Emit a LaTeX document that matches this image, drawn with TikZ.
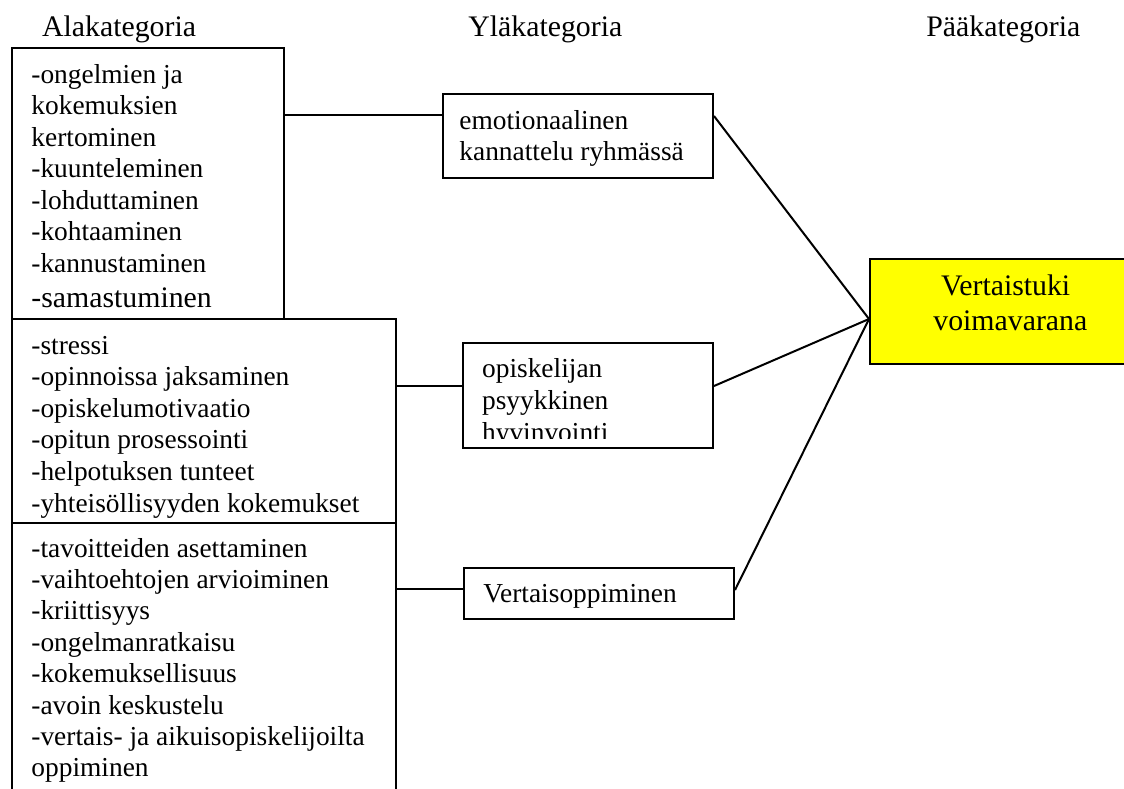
\documentclass[tikz,border=0pt]{standalone}
\usepackage{fontspec}
\setmainfont{Liberation Serif}
\begin{document}
\begin{tikzpicture}[x=0.5pt,y=-0.5pt,
  box/.style={draw, line width=1pt, rectangle, inner sep=0pt, anchor=north west},
  link/.style={line width=1pt},
  body/.style={anchor=base west, inner sep=0pt, font=\fontsize{13.7}{15.75}\selectfont},
  big/.style={anchor=base west, inner sep=0pt, font=\fontsize{14.9}{17.5}\selectfont}]
\useasboundingbox (0,0) rectangle (1124,788);
\clip (0,0) rectangle (1124,788);

% column headings
\node[big] (hAla) at (41.7,36) {Alakategoria};
\node[big] (hYla) at (468,36) {Yläkategoria};
\node[big] (hPaa) at (926,36) {Pääkategoria};

% left column: subcategory boxes
\node[box, minimum width=136pt, minimum height=135.5pt] (sub1) at (11,47) {};
\node[box, minimum width=192pt, minimum height=102pt] (sub2) at (11,318) {};
\node[box, minimum width=192pt, minimum height=139pt] (sub3) at (11,522) {};

\foreach \t [count=\i from 0] in {-ongelmien ja, kokemuksien, kertominen, -kuunteleminen,
    -lohduttaminen, -kohtaaminen, -kannustaminen}
  \node[body] (s1l\i) at (31,83+31.5*\i) {\t};
\node[big] (s1l7) at (31,307) {-samastuminen};

\foreach \t [count=\i from 0] in {-stressi, -opinnoissa jaksaminen, -opiskelumotivaatio,
    -opitun prosessointi, -helpotuksen tunteet, -yhteisöllisyyden kokemukset}
  \node[body] (s2l\i) at (31,354+31.6*\i) {\t};

\foreach \t [count=\i from 0] in {-tavoitteiden asettaminen, -vaihtoehtojen arvioiminen,
    -kriittisyys, -ongelmanratkaisu, -kokemuksellisuus, -avoin keskustelu,
    -vertais- ja aikuisopiskelijoilta, oppiminen}
  \node[body] (s3l\i) at (31,557+31.4*\i) {\t};

% middle column: upper categories
\node[box, minimum width=135pt, minimum height=42pt] (up1) at (442,93) {};
\node[body] (u1a) at (459,129) {emotionaalinen};
\node[body] (u1b) at (459,160) {kannattelu ryhmässä};

\node[box, minimum width=125pt, minimum height=52.5pt] (up2) at (462,342) {};
\begin{scope}
  \clip (462,342) rectangle (712,438);
  \node[body] (u2a) at (481.7,377) {opiskelijan};
  \node[body] (u2b) at (481.7,409) {psyykkinen};
  \node[body] (u2c) at (481.7,441.5) {hyvinvointi};
\end{scope}

\node[box, minimum width=135pt, minimum height=25.5pt] (up3) at (463,567) {};
\node[body] (u3a) at (483,602.7) {Vertaisoppiminen};

% right column: main category
\node[box, fill={rgb,255:red,255;green,255;blue,0}, minimum width=132pt, minimum height=52.5pt] (main) at (869,258) {};
\node[big] (m1) at (940.7,295) {Vertaistuki};
\node[big] (m2) at (933,330) {voimavarana};

% connectors
\coordinate (hub) at (main.west |- 0,319);
\draw[link] (sub1.east |- 0,115) -- (up1.west |- 0,115);
\draw[link] (sub2.east |- 0,386) -- (up2.west |- 0,386);
\draw[link] (sub3.east |- 0,589) -- (up3.west |- 0,589);
\draw[link] (up1.east |- 0,116) -- (hub);
\draw[link] (up2.east |- 0,386) -- (hub);
\draw[link] (up3.east |- 0,590) -- (hub);
\end{tikzpicture}
\end{document}
